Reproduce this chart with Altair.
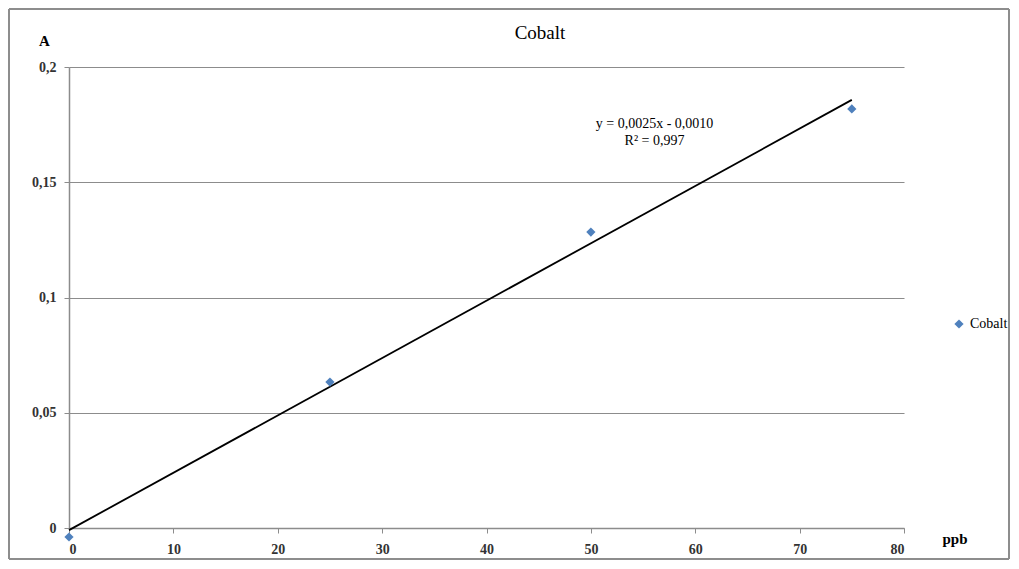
import altair as alt
import pandas as pd

# Data
ppb = [0, 25, 50, 75]
absorbance = [-0.0039, 0.0633, 0.1284, 0.1818]
series = ["Cobalt"] * 4
eq_lines = ["y = 0,0025x - 0,0010", "R² = 0,997"]
eq_x = [56.1, 56.1]
eq_y = [0.1753, 0.1680]
y_ticks = [0, 0.05, 0.1, 0.15, 0.2]
x_ticks = [0, 10, 20, 30, 40, 50, 60, 70, 80]
chart_title = ["Cobalt"]

df = pd.DataFrame({"ppb": ppb, "A": absorbance, "series": series})
eq_df = pd.DataFrame({"text": eq_lines, "x": eq_x, "y": eq_y})
title_df = pd.DataFrame({"t": chart_title})

FONT = "Liberation Serif"
W, H = 835, 461

xs = alt.Scale(domain=[0, 80], nice=False)
ys = alt.Scale(domain=[0, 0.2], nice=False)

base = alt.Chart(df)

points = base.mark_point(shape="diamond", filled=True, size=85, opacity=1).encode(
    x=alt.X("ppb:Q", scale=xs,
            axis=alt.Axis(values=x_ticks, title="ppb", grid=False, titleAngle=0,
                          titleAlign="left", titleBaseline="top", titleX=W + 38, titleY=3,
                          labelPadding=9,
                          labelExpr="replace(datum.label, '.', ',')")),
    y=alt.Y("A:Q", scale=ys,
            axis=alt.Axis(values=y_ticks, title="A", grid=True, titleAngle=0,
                          titleX=-25, titleY=-27, titleAlign="center", titleBaseline="middle",
                          format=".2~f", labelPadding=8,
                          labelExpr="replace(datum.label, '.', ',')")),
    color=alt.Color("series:N", scale=alt.Scale(range=["#4F81BD"]),
                    legend=alt.Legend(title=None, orient="none", legendX=W + 48, legendY=250,
                                      symbolType="diamond", symbolSize=85,
                                      labelFont=FONT, labelFontSize=14, labelColor="#000")),
)

trend = base.transform_regression("ppb", "A", extent=[0, 75]).mark_line(
    color="black", strokeWidth=1.8
).encode(x=alt.X("ppb:Q", scale=xs), y=alt.Y("A:Q", scale=ys))

eq = alt.Chart(eq_df).mark_text(font=FONT, fontSize=14, color="#000", align="center").encode(
    x=alt.X("x:Q", scale=xs), y=alt.Y("y:Q", scale=ys), text="text:N"
)

title_mark = alt.Chart(title_df).mark_text(
    font=FONT, fontSize=19, color="#000", align="center", baseline="middle"
).encode(x=alt.value(471), y=alt.value(-34), text="t:N")

frame_color = "#8c8c8c"
frame = [
    alt.Chart(df).mark_rule(color=frame_color, strokeWidth=1.5).encode(
        x=alt.value(-60), y=alt.value(-58), y2=alt.value(492)),
    alt.Chart(df).mark_rule(color=frame_color, strokeWidth=1.5).encode(
        x=alt.value(-60), x2=alt.value(940), y=alt.value(-58)),
    alt.Chart(df).mark_rule(color=frame_color, strokeWidth=1.5).encode(
        x=alt.value(940), y=alt.value(-58), y2=alt.value(492)),
    alt.Chart(df).mark_rule(color=frame_color, strokeWidth=1.5).encode(
        x=alt.value(-60), x2=alt.value(940), y=alt.value(492)),
]

chart = alt.layer(*frame, trend, points, eq, title_mark).properties(
    width=W, height=H,
    autosize=alt.AutoSizeParams(type="none"),
    padding={"left": 61, "top": 59, "right": 107, "bottom": 33},
).configure_view(stroke=None).configure_axis(
    labelFont=FONT, labelFontSize=14, labelFontWeight="bold", labelColor="#333",
    titleFont=FONT, titleFontSize=15, titleFontWeight="bold", titleColor="#000",
    domainColor="#8c8c8c", tickColor="#8c8c8c", gridColor="#8c8c8c",
    domainWidth=1.5, gridWidth=1.2, tickSize=5
)

chart.save("out.html", embed_options={"renderer": "svg", "actions": False})
